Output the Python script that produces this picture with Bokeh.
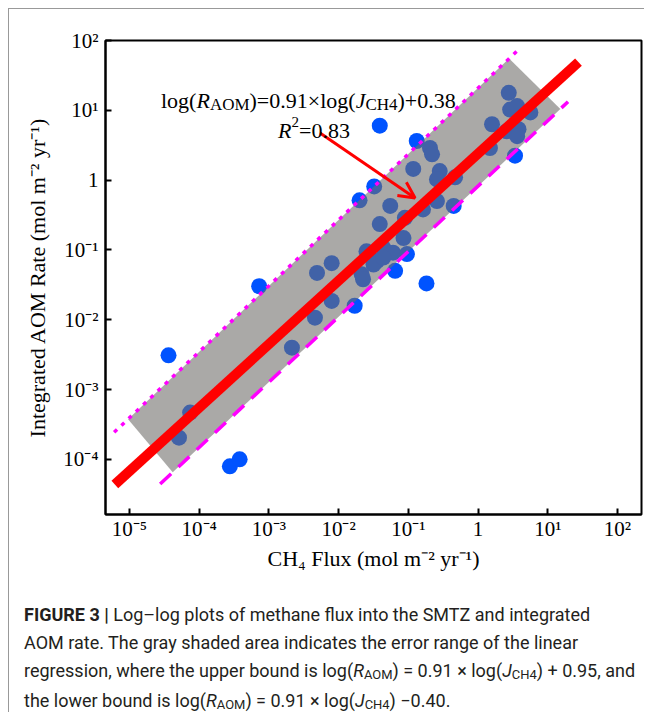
from bokeh.plotting import figure
from bokeh.models import Range1d, FixedTicker, Label, Arrow, OpenHead, Div
from bokeh.layouts import column
from bokeh.embed import file_html
from bokeh.resources import INLINE

# ---------------- data (log10 values) ----------------
log_flux = [-1.41, -1.49, -1.70, -1.41, -1.26, -2.10, -2.31, -3.14, -1.60, -1.67,
            -1.45, 0.44, 0.46, 0.56, 0.75, 0.20, 0.41, 0.58, 0.56, 0.17,
            0.53, -0.88, -0.69, -0.66, -0.93, -0.55, -0.59, -0.33, -0.59, -0.79,
            -0.35, -1.05, -1.07, -1.36, -1.22, -1.02, -1.57, -1.19, -0.74, -2.10,
            -2.34, -1.77, -2.67, -4.44, -4.13, -4.29, -3.56, -3.42, -1.65, -1.50,
            -1.36]
log_rate = [0.78, -0.09, -0.29, -0.63, -0.37, -1.19, -1.33, -1.52, -1.02, -1.35,
            -1.16, 1.25, 1.01, 1.06, 0.97, 0.80, 0.70, 0.73, 0.63, 0.46,
            0.35, 0.56, 0.46, 0.37, 0.16, 0.13, 0.01, 0.04, -0.30, -0.42,
            -0.37, -0.54, -0.83, -0.97, -1.04, -1.06, -1.06, -1.30, -1.48, -1.73,
            -1.97, -1.80, -2.40, -2.51, -3.33, -3.69, -4.10, -4.00, -1.42, -1.21,
            -1.11]
ch4_flux = [10 ** v for v in log_flux]
aom_rate = [10 ** v for v in log_rate]

x_tick_values = [1e-5, 1e-4, 1e-3, 1e-2, 1e-1, 1.0, 10.0, 100.0]
x_tick_labels = ["10\u207b\u2075", "10\u207b\u2074", "10\u207b\u00b3", "10\u207b\u00b2",
                 "10\u207b\u00b9", "1", "10\u00b9", "10\u00b2"]
y_tick_values = [1e-4, 1e-3, 1e-2, 1e-1, 1.0, 10.0, 100.0]
y_tick_labels = ["10\u207b\u2074", "10\u207b\u00b3", "10\u207b\u00b2", "10\u207b\u00b9",
                 "1", "10\u00b9", "10\u00b2"]

# regression line and error bounds (as drawn)
fit_slope, fit_intercept, fit_log_x = 0.91, 0.38, [-5.21, 1.44]
upper_slope, upper_intercept, upper_log_x = 0.945, 1.32, [-5.22, 0.57]
lower_slope, lower_intercept, lower_log_x = 0.936, -0.085, [-4.56, 1.29]
band_upper_log_x = [-5.02, 0.445]
band_lower_log_x = [-4.38, 1.18]

X_LOG_RANGE = (-5.344, 2.344)
Y_LOG_RANGE = (-4.79, 2.0)


def line_pts(slope, intercept, lx):
    return [10 ** v for v in lx], [10 ** (slope * v + intercept) for v in lx]


SERIF = "Liberation Serif"
W, H = 635, 576

p = figure(width=W, height=H, x_axis_type="log", y_axis_type="log",
           x_range=Range1d(10 ** X_LOG_RANGE[0], 10 ** X_LOG_RANGE[1]),
           y_range=Range1d(10 ** Y_LOG_RANGE[0], 10 ** Y_LOG_RANGE[1]),
           output_backend="svg", toolbar_location=None,
           min_border_left=96, min_border_right=3, min_border_top=31, min_border_bottom=71)
p.background_fill_color = "white"
p.border_fill_color = "white"
p.outline_line_color = "black"
p.outline_line_width = 2
p.grid.visible = False

for ax, vals, labs in ((p.xaxis[0], x_tick_values, x_tick_labels),
                       (p.yaxis[0], y_tick_values, y_tick_labels)):
    ax.ticker = FixedTicker(ticks=vals)
    ax.major_label_overrides = {v: l for v, l in zip(vals, labs)}
    ax.axis_line_color = "black"
    ax.axis_line_width = 2
    ax.major_tick_line_color = "black"
    ax.major_tick_line_width = 2
    ax.major_tick_in = 6
    ax.major_tick_out = 0
    ax.minor_tick_line_color = None
    ax.major_label_text_font = SERIF
    ax.major_label_text_font_size = "21px"
    ax.major_label_text_color = "black"
    ax.axis_label_text_font = SERIF
    ax.axis_label_text_font_size = "22px"
    ax.axis_label_text_font_style = "normal"
    ax.axis_label_text_color = "black"

p.xaxis.axis_label = "CH\u2084 Flux (mol m\u207b\u00b2 yr\u207b\u00b9)"
p.yaxis.axis_label = "Integrated AOM Rate (mol m\u207b\u00b2 yr\u207b\u00b9)"
p.xaxis.major_label_standoff = 2
p.xaxis.axis_label_standoff = 2
p.yaxis.major_label_standoff = 7
p.yaxis.axis_label_standoff = 10

# points
p.scatter(ch4_flux, aom_rate, size=16, fill_color="#0053ff", line_color=None)

# gray error band (semi-transparent overlay)
ux, uy = line_pts(upper_slope, upper_intercept, band_upper_log_x)
lx, ly = line_pts(lower_slope, lower_intercept, band_lower_log_x)
p.patch(ux + lx[::-1], uy + ly[::-1], fill_color="#6e6c69", fill_alpha=0.59, line_color=None)

# bounds
bx, by = line_pts(upper_slope, upper_intercept, upper_log_x)
p.line(bx, by, line_color="#ff00ff", line_width=3.5, line_dash="4 6")
bx, by = line_pts(lower_slope, lower_intercept, lower_log_x)
p.line(bx, by, line_color="#ff00ff", line_width=3.5, line_dash="15 10")

# regression line
fx, fy = line_pts(fit_slope, fit_intercept, fit_log_x)
p.line(fx, fy, line_color="#ff0000", line_width=10)

# arrow
p.add_layout(Arrow(end=OpenHead(size=16, line_color="#ff0000", line_width=3),
                   x_start=10 ** -2.267, y_start=10 ** 0.675,
                   x_end=10 ** -0.904, y_end=10 ** -0.256,
                   line_color="#ff0000", line_width=3))

# ---------------- equation annotation built from runs (Times metrics) ----------------
TIMES = {" ": 250, "(": 333, ")": 333, "=": 564, "+": 564, "\u00d7": 564, ".": 250,
         "l": 278, "o": 500, "g": 500, "A": 722, "O": 722, "M": 889, "C": 667,
         "H": 722, "R": 667, "J": 389}
TIMES_ITALIC = {"R": 611, "J": 444}


def text_width(s, size, italic=False):
    w = 0
    for c in s:
        if italic and c in TIMES_ITALIC:
            w += TIMES_ITALIC[c]
        else:
            w += TIMES.get(c, 500)
    return w * size / 1000.0


def add_runs(x, y, runs):
    pos = 0.0
    for txt, size, shift, style in runs:
        p.add_layout(Label(x=x, y=y, text=txt, x_offset=pos, y_offset=shift,
                           text_font=SERIF, text_font_size=f"{size}px",
                           text_font_style=style, text_baseline="alphabetic",
                           text_align="left", text_color="black"))
        pos += text_width(txt, size, style == "italic")


add_runs(10 ** -4.548, 10 ** 1.143, [
    ("log(", 22, 0, "normal"), ("R", 22, 0, "italic"), ("AOM", 17, -4, "normal"),
    (")=0.91\u00d7log(", 22, 0, "normal"), ("J", 22, 0, "italic"),
    ("CH4", 17, -4, "normal"), (")+0.38", 22, 0, "normal")])
add_runs(10 ** -2.869, 10 ** 0.713, [
    ("R", 22, 0, "italic"), ("2", 15, 8, "normal"), ("=0.83", 22, 0, "normal")])

SUB = '<span style="font-size:0.72em;position:relative;top:0.15em">'
caption = Div(width=W, height=127, margin=(0, 0, 0, 0), text=(
    '<div style="box-sizing:border-box;font-family:Roboto,\'Liberation Sans\',sans-serif;'
    'font-size:18px;line-height:28px;color:#231f20;padding-top:16px;padding-left:15px;'
    'height:127px;overflow:hidden;white-space:nowrap;">'
    '<b>FIGURE 3 |</b> Log\u2013log plots of methane flux into the SMTZ and integrated<br>'
    'AOM rate. The gray shaded area indicates the error range of the linear<br>'
    'regression, where the upper bound is log(<i>R</i>' + SUB + 'AOM</span>) = 0.91 \u00d7 '
    'log(<i>J</i>' + SUB + 'CH4</span>) + 0.95, and<br>'
    'the lower bound is log(<i>R</i>' + SUB + 'AOM</span>) = 0.91 \u00d7 '
    'log(<i>J</i>' + SUB + 'CH4</span>) \u22120.40.'
    '</div>'))

layout = column(p, caption, margin=(8, 0, 0, 8),
                styles={"border-top": "1px solid #999999",
                        "border-left": "1px solid #999999"})

open("out.html", "w").write(file_html(layout, INLINE))
